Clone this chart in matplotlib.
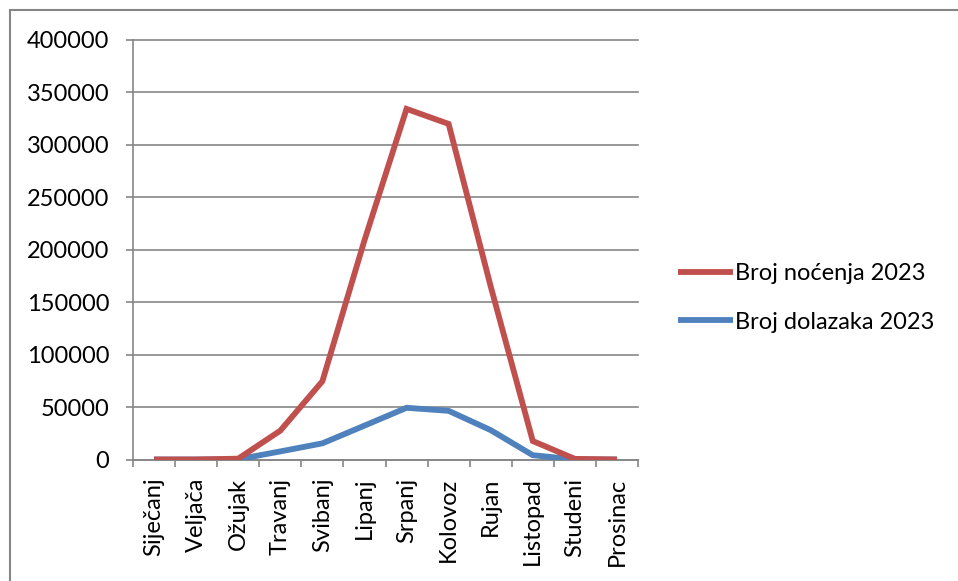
import matplotlib
matplotlib.use('Agg')
import matplotlib.pyplot as plt
from matplotlib.patches import Rectangle

plt.rcParams['font.family'] = ['Lato', 'DejaVu Sans']

months = ['Siječanj', 'Veljača', 'Ožujak', 'Travanj', 'Svibanj', 'Lipanj',
          'Srpanj', 'Kolovoz', 'Rujan', 'Listopad', 'Studeni', 'Prosinac']
nocenja_2023 = [0, 0, 800, 27500, 74600, 209000, 334300, 320000, 165000, 17600, 600, 0]
dolasci_2023 = [0, 0, 200, 7700, 15400, 32300, 49300, 46400, 28000, 4100, 100, 0]
y_ticks = [0, 50000, 100000, 150000, 200000, 250000, 300000, 350000, 400000]

W, H = 958, 581
fs = 17
fig = plt.figure(figsize=(W / 100, H / 100), dpi=100)

# outer chart border (only left/top visible in the reference)
fig.patches.append(Rectangle((10 / W, -0.1), 1.2, 1 - 10 / H + 0.1, transform=fig.transFigure,
                             fill=False, edgecolor='#868686', linewidth=1.5))

ax = fig.add_axes([133 / W, 1 - 459.5 / H, (638 - 133) / W, (459.5 - 40) / H])

grey = '#868686'
x = list(range(len(months)))
l2, = ax.plot(x, dolasci_2023, color='#4F81BD', linewidth=4.2, solid_capstyle='butt',
              solid_joinstyle='miter', zorder=3)
l1, = ax.plot(x, nocenja_2023, color='#C0504D', linewidth=4.2, solid_capstyle='butt',
              solid_joinstyle='miter', zorder=4)

ax.set_xlim(-0.5, len(months) - 0.5)
ax.set_ylim(0, 400000)
ax.set_yticks(y_ticks)
ax.set_yticklabels([str(v) for v in y_ticks], fontsize=fs)
ax.yaxis.grid(True, color=grey, linewidth=1.2, clip_on=False)
ax.set_axisbelow(True)

ax.set_xticks([i - 0.5 for i in range(len(months) + 1)])
ax.set_xticklabels([])
ax.set_xticks(x, minor=True)
ax.set_xticklabels(months, minor=True, rotation=90, fontsize=fs)
ax.tick_params(axis='x', which='minor', length=0, pad=13)
ax.tick_params(axis='x', which='major', length=5, width=1.2, color=grey, direction='out')
ax.tick_params(axis='y', length=5, width=1.2, color=grey, direction='out', pad=12)

for s in ['top', 'right']:
    ax.spines[s].set_visible(False)
for s in ['left', 'bottom']:
    ax.spines[s].set_color(grey)
    ax.spines[s].set_linewidth(1.2)

fig.legend([l1, l2], ['Broj noćenja 2023', 'Broj dolazaka 2023'],
           loc='center left', bbox_to_anchor=(657 / W, 1 - 298 / H),
           frameon=False, fontsize=fs, handlelength=2.3, handletextpad=0.1,
           labelspacing=1.15)

fig.savefig('out.png', dpi=100)
